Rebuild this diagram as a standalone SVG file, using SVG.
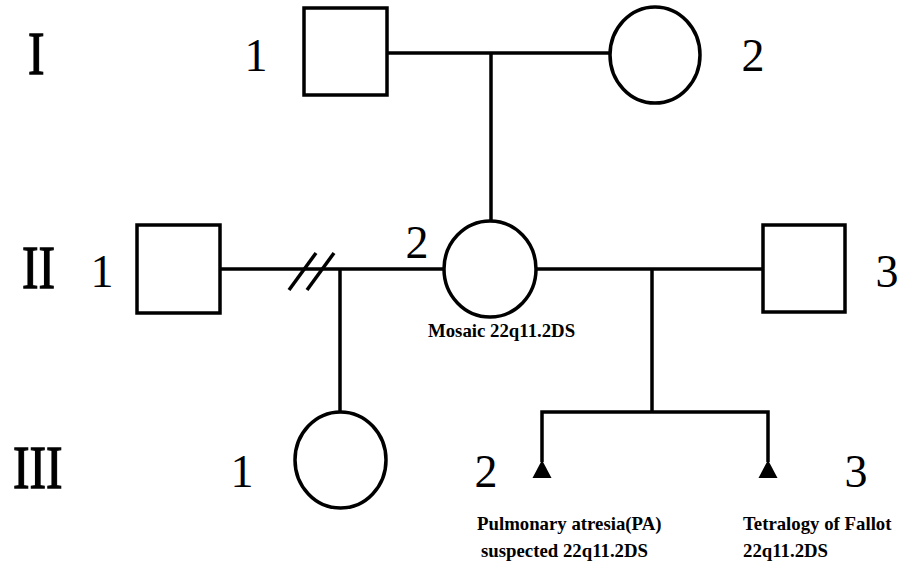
<svg xmlns="http://www.w3.org/2000/svg" width="912" height="568" viewBox="0 0 912 568">
<style>
.sym{fill:#fff;stroke:#000;stroke-width:3.5}
.ln{fill:none;stroke:#000;stroke-width:3.5}
.aff{fill:#000;stroke:none}
.num{font-family:"Liberation Serif","Times New Roman",serif;font-size:46px;fill:#000;text-anchor:middle}
.gen{font-family:"Liberation Serif","Times New Roman",serif;font-size:62px;fill:#000;stroke:#000;stroke-width:1.3}
.lab{font-family:"Liberation Serif","Times New Roman",serif;font-size:18.8px;font-weight:bold;fill:#000}
</style>
<rect width="912" height="568" fill="#fff"/>
<g id="generations">
<text class="gen" transform="translate(28,74) scale(0.8,1)">I</text>
<text class="gen" transform="translate(22,288) scale(0.8,1)">II</text>
<text class="gen" transform="translate(13,488) scale(0.8,1)">III</text>
</g>
<g id="connectors">
<line class="ln" x1="387" y1="53" x2="610" y2="53"/>
<line class="ln" x1="491" y1="53" x2="491" y2="221"/>
<line class="ln" x1="220" y1="269" x2="444" y2="269"/>
<line class="ln" x1="289" y1="290" x2="316" y2="253"/>
<line class="ln" x1="307" y1="290" x2="334" y2="253"/>
<line class="ln" x1="340" y1="269" x2="340" y2="412"/>
<line class="ln" x1="536" y1="269" x2="763" y2="269"/>
<line class="ln" x1="652" y1="269" x2="652" y2="412"/>
<polyline class="ln" points="542,462 542,412 768,412 768,462"/>
</g>
<g id="I-1">
<rect class="sym" x="304" y="8" width="83" height="87"/>
<text class="num" x="256" y="71">1</text>
</g>
<g id="I-2">
<ellipse class="sym" cx="655" cy="55" rx="45" ry="48"/>
<text class="num" x="753" y="71">2</text>
</g>
<g id="II-1">
<rect class="sym" x="137" y="225" width="83" height="88"/>
<text class="num" x="102" y="287">1</text>
</g>
<g id="II-2">
<ellipse class="sym" cx="490" cy="269" rx="46" ry="48"/>
<text class="num" x="417" y="258">2</text>
<text class="lab" x="428" y="337">Mosaic 22q11.2DS</text>
</g>
<g id="II-3">
<rect class="sym" x="763" y="225" width="82" height="87"/>
<text class="num" x="887" y="287">3</text>
</g>
<g id="III-1">
<ellipse class="sym" cx="340.5" cy="460" rx="45.5" ry="48"/>
<text class="num" x="242" y="487">1</text>
</g>
<g id="III-2">
<polygon class="aff" points="542,460 551.5,478 532.5,478"/>
<text class="num" x="486" y="487">2</text>
<text class="lab" x="477" y="530">Pulmonary atresia(PA)</text>
<text class="lab" x="481" y="557">suspected 22q11.2DS</text>
</g>
<g id="III-3">
<polygon class="aff" points="768,460 777.5,478 758.5,478"/>
<text class="num" x="856" y="487">3</text>
<text class="lab" x="743" y="530">Tetralogy of Fallot</text>
<text class="lab" x="743" y="557">22q11.2DS</text>
</g>
</svg>
